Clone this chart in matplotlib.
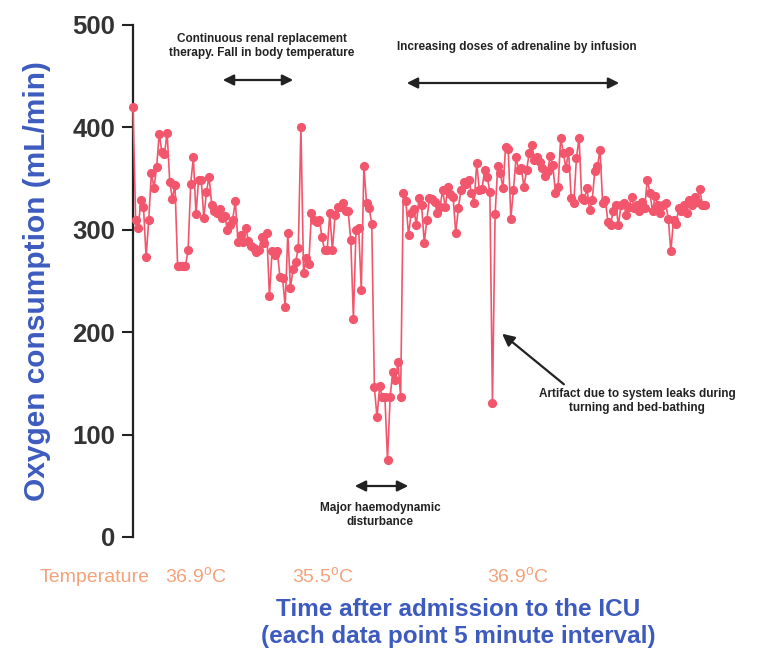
import matplotlib
matplotlib.use("Agg")
import matplotlib.pyplot as plt
import numpy as np

plt.rcParams['font.family'] = ['Liberation Sans', 'DejaVu Sans']
plt.rcParams['mathtext.fontset'] = 'custom'
plt.rcParams['mathtext.rm'] = 'Liberation Sans'

# Oxygen consumption (mL/min), one value per 5-minute interval, by phase
vo2_admission = [420, 310, 302, 329, 322, 273, 310, 355, 341, 361, 394, 376, 374, 395, 347,
                 330, 344, 265, 265, 265, 265, 280, 345, 371, 315, 349, 349, 312, 337, 352,
                 324, 318, 316, 320, 312, 313, 300, 305, 310, 328, 288, 295, 288, 302]
vo2_crrt = [289, 284, 282, 278, 280, 293, 287, 297, 235, 279, 275, 279, 254, 253, 225, 297,
            243, 262, 269, 282, 400, 258, 272, 267, 316, 310, 308, 310, 293, 280, 280, 316,
            280, 314, 322, 322]
vo2_haemodynamic = [326, 318, 318, 290, 213, 300, 302, 241, 362, 326, 321, 306, 146, 117, 147,
                    137, 137, 75, 137, 161, 153, 171, 137]
vo2_adrenaline = [336, 328, 295, 316, 320, 305, 331, 324, 287, 310, 331, 330, 327, 316, 322,
                  339, 322, 342, 335, 332, 297, 321, 339, 347, 345, 349, 336, 326, 365, 339,
                  340, 358, 352, 337, 131, 315, 362, 355, 341, 381, 379, 311, 339, 371, 358,
                  360, 342, 358, 375, 383, 368]
vo2_late = [371, 366, 360, 353, 357, 372, 363, 336, 342, 390, 375, 360, 377, 331, 326, 370,
            390, 331, 329, 341, 319, 329, 357, 362, 378, 326, 329, 308, 305, 318, 324, 305,
            324, 326, 314, 322, 332, 321, 324, 318, 327, 321, 349, 336, 318, 333, 324, 316,
            324, 326, 311, 279, 310, 306, 321, 318, 324, 316, 329, 324, 332, 327, 340, 324, 324]

vo2 = vo2_admission + vo2_crrt + vo2_haemodynamic + vo2_adrenaline + vo2_late
time_idx = np.arange(len(vo2))

y_ticks = [0, 100, 200, 300, 400, 500]
temperature_labels = ["36.9", "35.5", "36.9"]

W, H = 768, 657
fig = plt.figure(figsize=(W / 100, H / 100), dpi=100)
ax = fig.add_axes([133 / W, 1 - 537 / H, (710 - 133) / W, (537 - 25) / H])

line_color = '#f2566c'
ax.plot(time_idx, vo2, color=line_color, lw=1.2, marker='o', ms=5.6,
        mec=line_color, mfc=line_color, clip_on=False, zorder=3)

n = len(vo2)
ax.set_xlim(0, (n - 1) * (710 - 133) / (705 - 133))
ax.set_ylim(0, 500)
ax.set_yticks(y_ticks)
ax.set_xticks([])
for s in ['top', 'right', 'bottom']:
    ax.spines[s].set_visible(False)
ax.spines['left'].set_linewidth(1.6)
ax.spines['left'].set_color('#222222')
ax.tick_params(axis='y', direction='out', length=8, width=1.5, color='#222222',
               labelsize=18.5, labelcolor='#333333', pad=5)
for lab in ax.get_yticklabels():
    lab.set_fontweight('bold')

blue = '#3d5bbf'
fig.text(37 / W, 1 - 281 / H, 'Oxygen consumption (mL/min)', rotation=90,
         ha='center', va='center', fontsize=21.5, fontweight='bold', color=blue)
fig.text(458 / W, 1 - 623 / H,
         'Time after admission to the ICU\n(each data point 5 minute interval)',
         ha='center', va='center', fontsize=17.5, fontweight='bold', color=blue,
         linespacing=1.2)

orange = '#f5a27a'
fig.text(40 / W, 1 - 577 / H, 'Temperature', ha='left', va='center', fontsize=14, color=orange)
for xpx, t in zip([165, 292, 487], temperature_labels):
    fig.text(xpx / W, 1 - 577 / H, t + r'$^{\mathrm{o}}$C', ha='left', va='center',
             fontsize=14, color=orange)

txt = '#222222'
fig.text(262 / W, 1 - 46 / H, 'Continuous renal replacement\ntherapy. Fall in body temperature',
         ha='center', va='center', fontsize=8.5, fontweight='bold', color=txt, linespacing=1.3)
fig.text(517 / W, 1 - 47 / H, 'Increasing doses of adrenaline by infusion',
         ha='center', va='center', fontsize=8.5, fontweight='bold', color=txt)
fig.text(380 / W, 1 - 515 / H, 'Major haemodynamic\ndisturbance',
         ha='center', va='center', fontsize=8.5, fontweight='bold', color=txt, linespacing=1.3)
fig.text(637 / W, 1 - 401 / H, 'Artifact due to system leaks during\nturning and bed-bathing',
         ha='center', va='center', fontsize=8.5, fontweight='bold', color=txt, linespacing=1.3)

def dbl_arrow(x0, x1, y):
    fig.patches.append(matplotlib.patches.FancyArrowPatch(
        (x0, H - y), (x1, H - y), transform=None, arrowstyle='<|-|>',
        mutation_scale=16, lw=1.6, color=txt))

dbl_arrow(220, 296, 80)
dbl_arrow(404, 622, 83)
dbl_arrow(352, 411, 486)

fig.patches.append(matplotlib.patches.FancyArrowPatch(
    (566, H - 386), (500, H - 332), transform=None, arrowstyle='-|>',
    mutation_scale=18, lw=1.6, color=txt))

fig.savefig('out.png', dpi=100)
